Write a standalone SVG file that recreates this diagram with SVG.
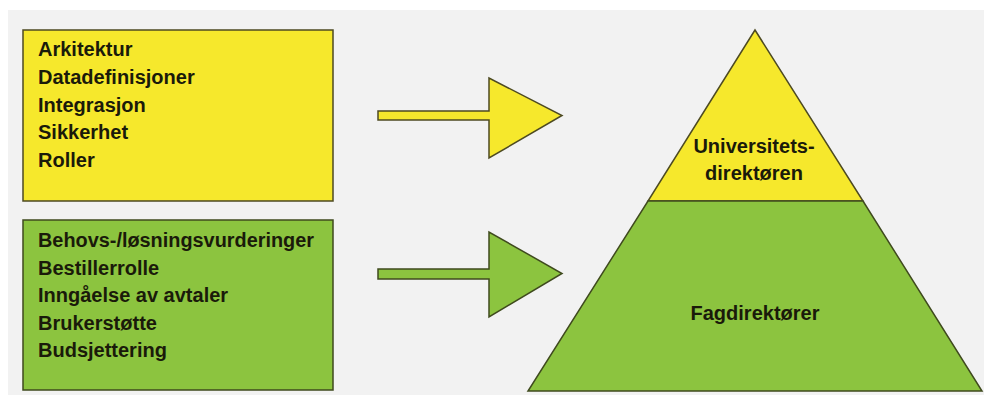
<svg xmlns="http://www.w3.org/2000/svg" width="984" height="403" viewBox="0 0 984 403">
<style>
.yl{fill:#f6e82c;stroke:#4d4a22;stroke-width:1.5;stroke-linejoin:miter}
.gr{fill:#8cc43f;stroke:#3f4a1e;stroke-width:1.5;stroke-linejoin:miter}
.t{font-family:"Liberation Sans",Arial,sans-serif;font-weight:bold;font-size:20px;fill:#1a1a0a}
.c{text-anchor:middle}
</style>
<rect x="0" y="0" width="984" height="403" fill="#ffffff"/>
<rect x="8" y="10" width="976" height="385" fill="#f2f2f2"/>
<g id="box-yellow">
<rect class="yl" x="23" y="30" width="310" height="171"/>
<text class="t" x="38" y="56">Arkitektur</text>
<text class="t" x="38" y="84">Datadefinisjoner</text>
<text class="t" x="38" y="112">Integrasjon</text>
<text class="t" x="38" y="139">Sikkerhet</text>
<text class="t" x="38" y="167">Roller</text>
</g>
<g id="box-green">
<rect class="gr" x="23" y="220" width="310" height="170"/>
<text class="t" x="38" y="247" textLength="276" lengthAdjust="spacingAndGlyphs">Behovs-/løsningsvurderinger</text>
<text class="t" x="38" y="275">Bestillerrolle</text>
<text class="t" x="38" y="302">Inngåelse av avtaler</text>
<text class="t" x="38" y="330">Brukerstøtte</text>
<text class="t" x="38" y="357">Budsjettering</text>
</g>
<g id="connectors">
<path class="yl" d="M378,111 L489,111 L489,78 L562,115.5 L489,158 L489,120 L378,120 Z"/>
<path class="gr" d="M378,269 L489,269 L489,232 L562,273.5 L489,317 L489,279 L378,279 Z"/>
</g>
<g id="pyramid-top">
<path class="yl" d="M755,30 L863,201 L648,201 Z"/>
<text class="t c" x="754" y="153">Universitets-</text>
<text class="t c" x="754" y="180">direktøren</text>
</g>
<g id="pyramid-bottom">
<path class="gr" d="M648,201 L863,201 L982,391 L528,391 Z"/>
<text class="t c" x="755" y="320">Fagdirektører</text>
</g>
</svg>
